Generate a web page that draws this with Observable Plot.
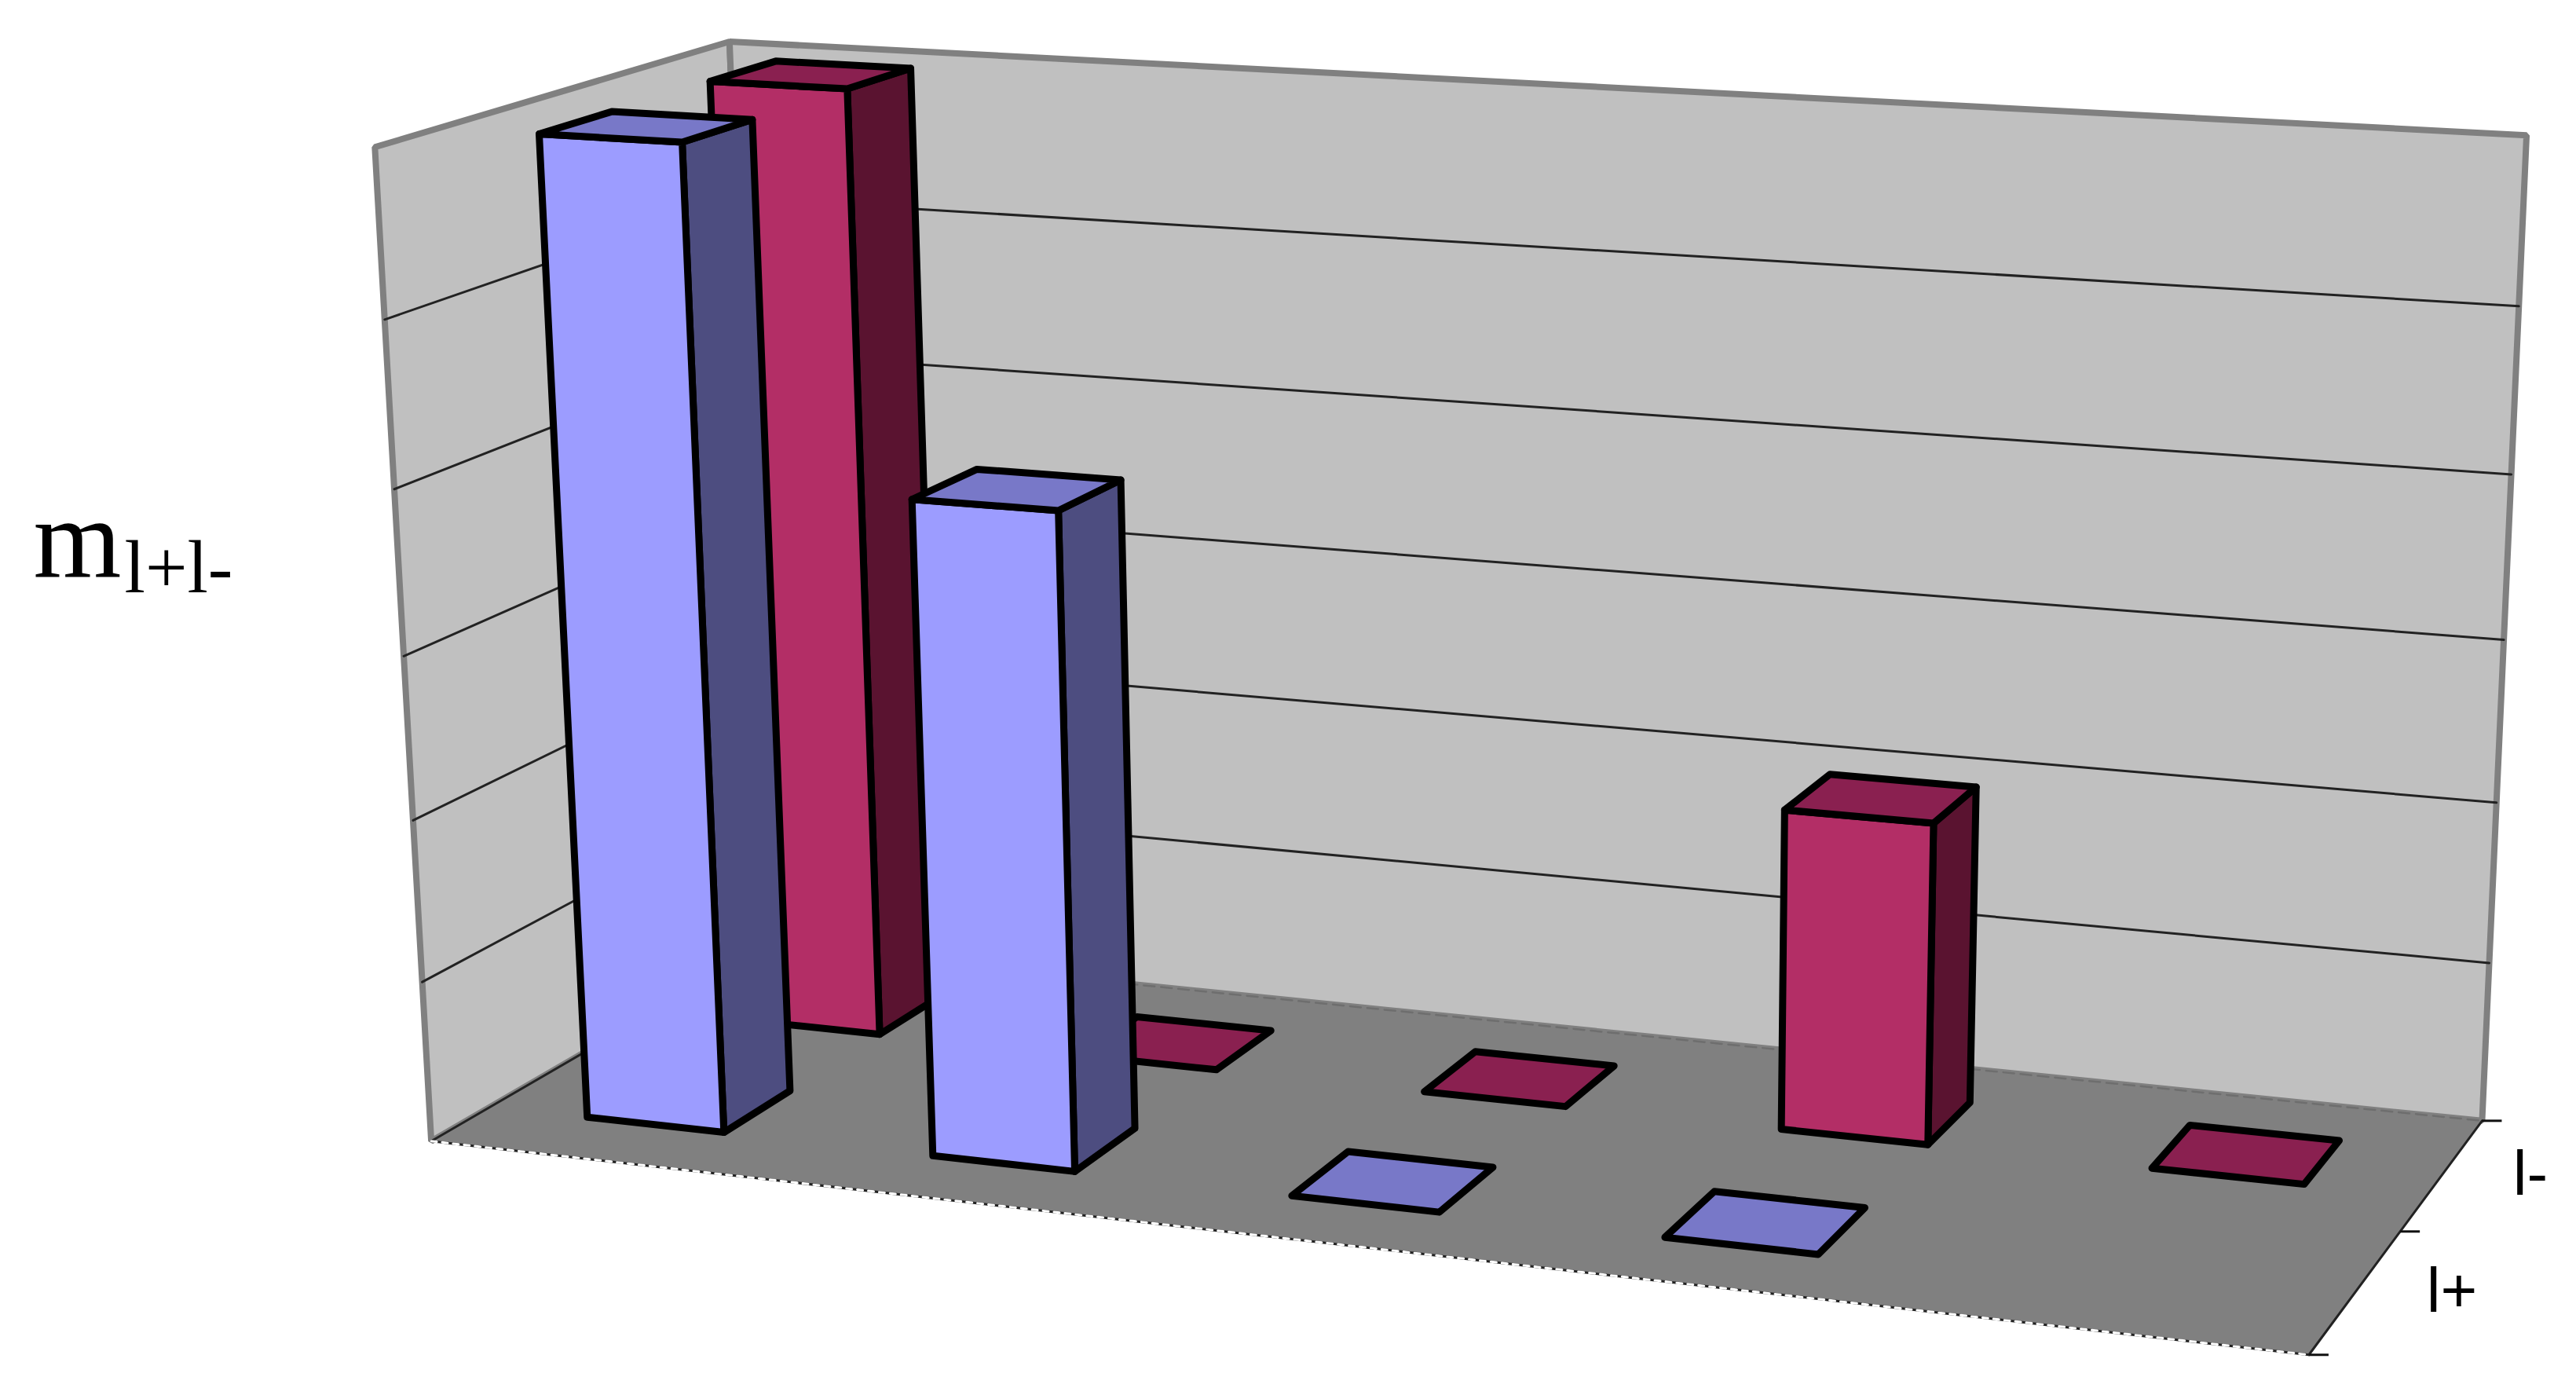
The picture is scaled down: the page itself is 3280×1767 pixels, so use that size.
<!DOCTYPE html>
<html>
<head>
<meta charset="utf-8">
<style>html,body{margin:0;padding:0;background:#fff}svg{display:block;max-width:none!important}</style>
<script src="https://cdn.jsdelivr.net/npm/d3@7"></script>
<script src="https://cdn.jsdelivr.net/npm/@observablehq/plot@0.6"></script>
</head>
<body>
<div id="chart"></div>
<script>
// ---- data ----
const categories = [1, 2, 3, 4, 5];
const seriesNames = ["l+", "l-"];
const lPlus  = [6, 4, 0, 0, null];
const lMinus = [6, 0, 0, 2, 0];
const valueTicks = [0, 1, 2, 3, 4, 5, 6];
const axisLabel = "m";
const axisSubLabel = "l+l-";

// ---- camera: box corners [category, series, value] seen at [px, py] ----
const nCat = categories.length, nSer = seriesNames.length, vMax = 6;
const calib = [
  [0, 0, 0, 546, 1455], [0, 2, 0, 977, 1202], [5, 2, 0, 3159, 1430], [5, 0, 0, 2940, 1721],
  [0, 0, 6, 479, 187], [0, 2, 6, 926, 53], [5, 2, 6, 3217, 171]
];
function solve(A, b) {
  const n = b.length, M = A.map((r, i) => [...r, b[i]]);
  for (let i = 0; i < n; i++) {
    let p = i;
    for (let r = i + 1; r < n; r++) if (Math.abs(M[r][i]) > Math.abs(M[p][i])) p = r;
    [M[i], M[p]] = [M[p], M[i]];
    for (let r = 0; r < n; r++) if (r !== i) {
      const f = M[r][i] / M[i][i];
      for (let c = i; c <= n; c++) M[r][c] -= f * M[i][c];
    }
  }
  return M.map((r, i) => r[n] / r[i]);
}
const norm = (c, s, v) => [c / nCat, s / nSer, v / vMax];
const rows = [], rhs = [];
for (const [c, s, v, u0, v0] of calib) {
  const [X, Y, Z] = norm(c, s, v), u = u0 / 1000, w = v0 / 1000;
  rows.push([X, Y, Z, 1, 0, 0, 0, 0, -u * X, -u * Y, -u * Z]); rhs.push(u);
  rows.push([0, 0, 0, 0, X, Y, Z, 1, -w * X, -w * Y, -w * Z]); rhs.push(w);
}
const AtA = d3.range(11).map(i => d3.range(11).map(j => d3.sum(rows, r => r[i] * r[j])));
const Atb = d3.range(11).map(i => d3.sum(rows, (r, k) => r[i] * rhs[k]));
const P = solve(AtA, Atb);
function project(c, s, v) {
  const [X, Y, Z] = norm(c, s, v);
  const d = P[8] * X + P[9] * Y + P[10] * Z + 1;
  return [1000 * (P[0] * X + P[1] * Y + P[2] * Z + P[3]) / d,
          1000 * (P[4] * X + P[5] * Y + P[6] * Z + P[7]) / d];
}

// ---- polygon helpers ----
let polyId = 0;
const polys = {};
function poly(group, fill, corners) {
  const id = polyId++;
  (polys[group] = polys[group] || []).push(...corners.map(k => {
    const [x, y] = project(...k);
    return {x, y, id, fill};
  }));
}
const seg = (a, b) => [a, b].map(k => { const [x, y] = project(...k); return {x, y}; });

// walls and floor
poly("floor", "#808080", [[0,0,0],[5,0,0],[5,2,0],[0,2,0]]);
poly("walls", "#C0C0C0", [[0,0,0],[0,2,0],[0,2,6],[0,0,6]]);
poly("walls", "#C0C0C0", [[0,2,0],[5,2,0],[5,2,6],[0,2,6]]);

const gridData = [];
for (const t of valueTicks.slice(1, -1)) {
  const a = seg([0,0,t],[0,2,t]), b = seg([0,2,t],[5,2,t]);
  gridData.push(...a.map(d => ({...d, t: "l" + t})), ...b.map(d => ({...d, t: "l" + t})));
}

// bars
const palette = {
  "l+": {front: "#9C9CFF", side: "#4D4D80", top: "#7878C8"},
  "l-": {front: "#B32E66", side: "#5A1330", top: "#8A2050"}
};
const barW = 0.40, barD = 0.40, catCentre = 0.485, serCentre = [0.53, 0.5];
function bar(catIndex, serIndex, value, col) {
  if (value == null) return;
  const c0 = catIndex + catCentre - barW / 2, c1 = catIndex + catCentre + barW / 2;
  const s0 = serIndex + serCentre[serIndex] - barD / 2, s1 = serIndex + serCentre[serIndex] + barD / 2;
  if (value > 0) {
    poly("bars", col.side,  [[c1,s0,0],[c1,s1,0],[c1,s1,value],[c1,s0,value]]);
    poly("bars", col.front, [[c0,s0,0],[c1,s0,0],[c1,s0,value],[c0,s0,value]]);
  }
  poly("bars", col.top, [[c0,s0,value],[c1,s0,value],[c1,s1,value],[c0,s1,value]]);
}
lMinus.forEach((v, i) => bar(i, 1, v, palette["l-"]));
lPlus.forEach((v, i) => bar(i, 0, v, palette["l+"]));

const closed = (data, opts) => Plot.line(data, {x: "x", y: "y", z: "id", fill: "fill", curve: "linear-closed", ...opts});
const open = (data, opts) => Plot.line(data, {x: "x", y: "y", ...opts});

const serTicks = [0, 1, 2].map(s => { const [x, y] = project(5, s, 0); return {x, y}; });
const serLabels = seriesNames.map((name, s) => { const [x, y] = project(5, s + 0.5, 0); return {x, y, name}; });

const chart = Plot.plot({
  width: 3280, height: 1767, margin: 0,
  style: {background: "white"},
  x: {domain: [0, 3280], range: [0, 3280], axis: null},
  y: {domain: [0, 1767], range: [0, 1767], axis: null},
  marks: [
    closed(polys.floor, {stroke: "none"}),
    closed(polys.walls, {stroke: "#808080", strokeWidth: 8, strokeLinejoin: "miter"}),
    open(seg([0,2,0],[5,2,0]), {stroke: "#6e6e6e", strokeWidth: 2.5, strokeDasharray: "14,8"}),
    open(seg([0,0,0],[0,2,0]), {stroke: "#222", strokeWidth: 3}),
    Plot.line(gridData, {x: "x", y: "y", z: "t", stroke: "#222", strokeWidth: 3, curve: "linear"}),
    open(seg([0,0,0],[5,0,0]), {stroke: "#222", strokeWidth: 3}),
    open(seg([0,0,0],[5,0,0]), {stroke: "#fff", strokeWidth: 3, strokeDasharray: "7,7"}),
    open(seg([5,0,0],[5,2,0]), {stroke: "#222", strokeWidth: 3}),
    Plot.link(serTicks, {x1: "x", y1: "y", x2: d => d.x + 25, y2: "y", stroke: "#111", strokeWidth: 3}),
    closed(polys.bars, {stroke: "#000", strokeWidth: 9, strokeLinejoin: "round"}),
    Plot.text(serLabels, {x: "x", y: "y", text: "name", dx: 90, textAnchor: "start", lineAnchor: "middle",
      fontFamily: "Liberation Sans", fontSize: 80, fill: "#000"}),
    Plot.text([axisLabel], {x: () => 42, y: () => 733, text: d => d, textAnchor: "start", lineAnchor: "bottom",
      fontFamily: "Liberation Serif", fontSize: 144, fill: "#000"}),
    Plot.text([axisSubLabel], {x: () => 158, y: () => 753, text: d => d, textAnchor: "start", lineAnchor: "bottom",
      fontFamily: "Liberation Serif", fontSize: 95, fill: "#000"})
  ]
});
document.getElementById("chart").appendChild(chart);
</script>
</body>
</html>
